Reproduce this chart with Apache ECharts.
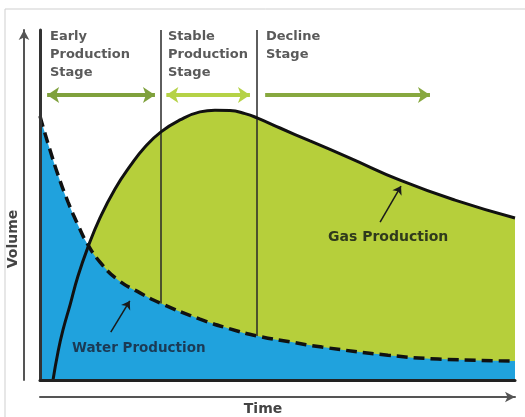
<!DOCTYPE html>
<html>
<head>
<meta charset="utf-8">
<script src="https://cdn.jsdelivr.net/npm/echarts@6/dist/echarts.min.js"></script>
<style>
  html, body { margin: 0; padding: 0; background: #fff; }
  #main { width: 525px; height: 417px; }
</style>
</head>
<body>
<div id="main"></div>
<script>
// 曲线数据 (time 0-100, volume 0-100)
var gasX = [2.74, 3.79, 4.84, 6.32, 8.0, 10.11, 12.63, 15.79, 18.95, 22.1, 25.47, 29.47, 33.68, 36.84, 40.0, 43.16, 45.68, 50.53, 56.84, 65.26, 75.79, 87.37, 100];
var gasY = [0, 8.0, 14.3, 21.4, 29.7, 38.0, 46.3, 54.6, 61.1, 66.6, 70.9, 74.3, 76.6, 77.1, 77.0, 76.1, 74.9, 72.0, 68.3, 63.4, 57.1, 51.4, 46.3];

var waterX = [0, 0.84, 2.11, 3.79, 5.89, 8.0, 9.89, 12.63, 16.42, 21.05, 25.26, 33.68, 40.0, 45.68, 52.63, 59.37, 73.26, 83.79, 100];
var waterY = [75.4, 71.4, 65.7, 58.6, 50.9, 44.3, 39.1, 33.7, 28.6, 24.9, 22.0, 17.4, 14.6, 12.6, 10.9, 9.4, 7.1, 6.0, 5.4];

// 阶段分界 / 箭头
var stageNames = ["Early\nProduction\nStage", "Stable\nProduction\nStage", "Decline\nStage"];
var stageBounds = [25.5, 45.7];
var stageArrowFrom = [1.5, 26.6, 47.4];
var stageArrowTo = [24.2, 44.2, 82.1];
var stageArrowY = 81.4;

function pairs(xs, ys) {
  var out = [];
  for (var i = 0; i < xs.length; i++) out.push([xs[i], ys[i]]);
  return out;
}
function waterAt(x) {
  for (var i = 1; i < waterX.length; i++) {
    if (x <= waterX[i]) {
      var t = (x - waterX[i - 1]) / (waterX[i] - waterX[i - 1]);
      return waterY[i - 1] + t * (waterY[i] - waterY[i - 1]);
    }
  }
  return waterY[waterY.length - 1];
}

var chart = echarts.init(document.getElementById("main"));
var font = '"DejaVu Sans", sans-serif';

var stageColors = ["#7fa13c", "#b5d246", "#87a83f"];
var stageLines = [];
for (var i = 0; i < 3; i++) {
  var style = { color: stageColors[i], width: 4, type: "solid" };
  stageLines.push([
    { coord: [stageArrowFrom[i], stageArrowY], symbol: i < 2 ? "arrow" : "none", lineStyle: style },
    { coord: [stageArrowTo[i], stageArrowY], symbol: "arrow", lineStyle: style }
  ]);
}
var boundLines = stageBounds.map(function (x) {
  return [{ coord: [x, 100] }, { coord: [x, waterAt(x)] }];
});

var option = {
  animation: false,
  grid: { left: 40, right: 10, top: 30, bottom: 37 },
  xAxis: [
    {
      type: "value", min: 0, max: 100, z: 10,
      axisLine: { show: true, lineStyle: { color: "#222", width: 3 } },
      axisTick: { show: false }, axisLabel: { show: false }, splitLine: { show: false }
    },
    {
      type: "value", min: 0, max: 100, position: "bottom", offset: 17,
      axisLine: { show: true, onZero: false, symbol: ["none", "arrow"], symbolSize: [8, 10], lineStyle: { color: "#555", width: 2 } },
      axisTick: { show: false }, axisLabel: { show: false }, splitLine: { show: false }
    }
  ],
  yAxis: [
    {
      type: "value", min: 0, max: 100, z: 10,
      axisLine: { show: true, lineStyle: { color: "#333", width: 3 } },
      axisTick: { show: false }, axisLabel: { show: false }, splitLine: { show: false }
    },
    {
      type: "value", min: 0, max: 100, position: "left", offset: 16,
      axisLine: { show: true, onZero: false, symbol: ["none", "arrow"], symbolSize: [8, 10], lineStyle: { color: "#555", width: 2 } },
      axisTick: { show: false }, axisLabel: { show: false }, splitLine: { show: false }
    }
  ],
  series: [
    {
      name: "gasArea", type: "line", z: 1, smooth: true, symbol: "none",
      data: pairs(gasX, gasY),
      lineStyle: { width: 0 },
      areaStyle: { color: "#b6cf3b", opacity: 1 }
    },
    {
      name: "waterArea", type: "line", z: 2, smooth: true, symbol: "none",
      data: pairs(waterX, waterY),
      lineStyle: { width: 0 },
      areaStyle: { color: "#20a2dd", opacity: 1 }
    },
    {
      name: "bounds", type: "line", z: 3, data: [],
      markLine: {
        silent: true, symbol: "none", label: { show: false },
        lineStyle: { color: "rgba(40,40,40,0.75)", width: 2, type: "solid" },
        data: boundLines
      }
    },
    {
      name: "Water Production", type: "line", z: 4, smooth: true, symbol: "none",
      data: pairs(waterX, waterY),
      lineStyle: { color: "#111", width: 3.5, type: [11, 6] }
    },
    {
      name: "Gas Production", type: "line", z: 5, smooth: true, symbol: "none",
      data: pairs(gasX, gasY),
      lineStyle: { color: "#111", width: 3 }
    },
    {
      name: "stages", type: "line", z: 6, data: [],
      markLine: {
        silent: true, symbolSize: 12, label: { show: false },
        data: stageLines
      }
    },
    {
      name: "notes", type: "line", z: 6, data: [],
      markLine: {
        silent: true, symbolSize: 8, label: { show: false },
        lineStyle: { color: "#1a1a1a", width: 1.5, type: "solid" },
        data: [
          [{ coord: [71.6, 45.1], symbol: "none" }, { coord: [76.0, 55.4], symbol: "arrow" }],
          [{ coord: [14.9, 13.7], symbol: "none" }, { coord: [18.9, 22.6], symbol: "arrow" }]
        ]
      }
    }
  ],
  graphic: [
    { type: "rect", z: -1, shape: { x: 5, y: 9, width: 540, height: 420 }, style: { fill: "none", stroke: "#cfcfcf", lineWidth: 1 } },
    { type: "text", x: 50, y: 28, z: 20, style: { text: stageNames[0], font: "bold 13px " + font, fill: "#5a5a5a", lineHeight: 18 } },
    { type: "text", x: 168, y: 28, z: 20, style: { text: stageNames[1], font: "bold 13px " + font, fill: "#5a5a5a", lineHeight: 18 } },
    { type: "text", x: 266, y: 28, z: 20, style: { text: stageNames[2], font: "bold 13px " + font, fill: "#5a5a5a", lineHeight: 18 } },
    { type: "text", x: 328, y: 237, z: 20, style: { text: "Gas Production", font: "bold 14px " + font, fill: "#2f3a1c", verticalAlign: "middle" } },
    { type: "text", x: 72, y: 348, z: 20, style: { text: "Water Production", font: "bold 13.5px " + font, fill: "#1b3a55", verticalAlign: "middle" } },
    { type: "text", x: 13, y: 239, z: 20, rotation: Math.PI / 2, style: { text: "Volume", font: "bold 14px " + font, fill: "#444", align: "center", verticalAlign: "middle" } },
    { type: "text", x: 263, y: 409, z: 20, style: { text: "Time", font: "bold 14px " + font, fill: "#444", align: "center", verticalAlign: "middle" } }
  ]
};

chart.setOption(option);
</script>
</body>
</html>
